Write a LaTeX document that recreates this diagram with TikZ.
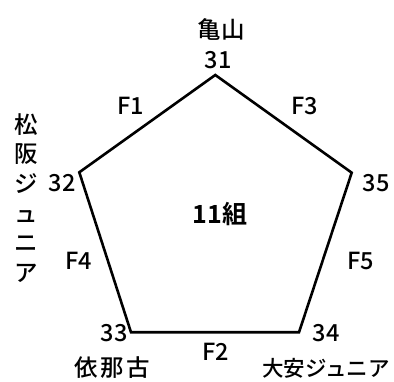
\documentclass[tikz,border=0pt]{standalone}
\usepackage{fontspec}
\setmainfont{Noto Sans CJK JP}[UprightFont={* Medium},BoldFont={* Bold}]
\begin{document}
\begin{tikzpicture}[x=1pt,y=-1pt,
  lbl/.style={inner sep=0pt,font=\fontsize{23.5}{25}\selectfont},
  edge/.style={line width=2.6pt,line join=miter}]
\useasboundingbox (0,0) rectangle (394,382);
\coordinate (p31) at (215.3,75);
\coordinate (p32) at (79.3,172.3);
\coordinate (p33) at (131,332.3);
\coordinate (p34) at (299,332.3);
\coordinate (p35) at (351.7,172.7);
\draw[edge] (p31) -- (p32) -- (p33) -- (p34) -- (p35) -- cycle;
\node[lbl] (n31) at (218,60) {31};
\node[lbl] (n32) at (62,183) {32};
\node[lbl] (n33) at (114,333) {33};
\node[lbl] (n34) at (326,333) {34};
\node[lbl] (n35) at (376,183) {35};
\node[lbl] (f1) at (131,106) {F1};
\node[lbl] (f3) at (305,106) {F3};
\node[lbl] (f4) at (79,261) {F4};
\node[lbl] (f5) at (361,261) {F5};
\node[lbl] (f2) at (216,352) {F2};
\node[lbl] (kameyama) at (221,29) {亀山};
\node[lbl] (inako) at (112,368) {依\hspace{2.5pt}那\hspace{2.5pt}古};
\node[lbl,font=\fontsize{21.5}{25}\selectfont] (daian) at (326,368) {大安ジュニア};
\node[lbl,font=\bfseries\fontsize{25}{27}\selectfont] (kumi) at (220,214) {11組};
\node[lbl,align=center,font=\fontsize{23.5}{29.6}\selectfont] (matsusaka) at (26,198) {松\\阪\\ジ\\ュ\\ニ\\ア};
\end{tikzpicture}
\end{document}
